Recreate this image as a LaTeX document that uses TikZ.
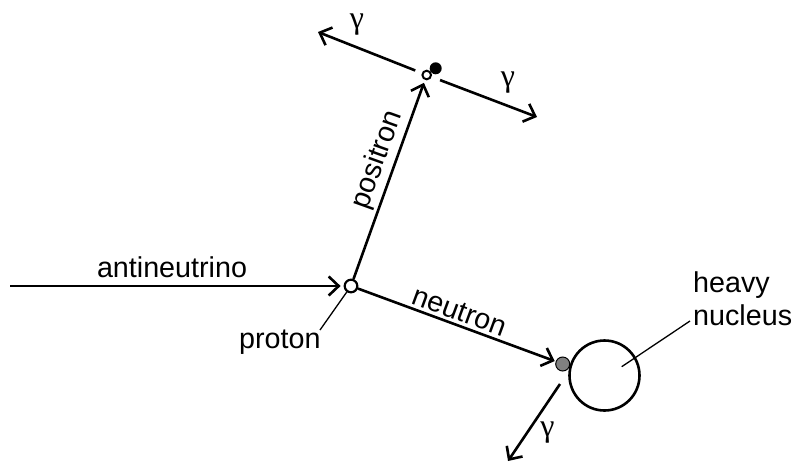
\documentclass[tikz,border=0pt]{standalone}
\usepackage{fontspec}
\setmainfont{Liberation Sans}
\newfontfamily\gfont{Liberation Serif}
\usetikzlibrary{arrows.meta}
\begin{document}
\begin{tikzpicture}[x=1pt,y=-1pt,
  main/.style={line width=2.6pt},
  arr/.style={main,-{Straight Barb[length=10pt,width=19pt,line width=2.6pt]}},
  lead/.style={line width=1.3pt},
  lbl/.style={font=\fontsize{28.7}{33}\selectfont, inner sep=0pt},
  gam/.style={font=\gfont\fontsize{32}{34}\selectfont, inner sep=0pt},
  opendot/.style={circle,draw,fill=white,inner sep=0pt},
]
\useasboundingbox (0,0) rectangle (795,464);

% particles
\node[opendot,line width=2.2pt,minimum size=12.6pt] (P) at (351,286) {};
\node[circle,fill=black,inner sep=0pt,minimum size=12pt] (F) at (435.7,68.3) {};
\node[opendot,line width=2pt,minimum size=8.6pt] (E) at (426.7,75) {};
\node[circle,draw,line width=1pt,fill=black!50,inner sep=0pt,minimum size=14pt] (G) at (562.7,364) {};
\node[circle,draw,line width=2.6pt,inner sep=0pt,minimum size=70pt] (N) at (604.5,375.5) {};

% antineutrino
\coordinate (A) at (10,286);
\draw[arr,shorten >=3pt] (A) -- (P);
\node[lbl,anchor=base] (antitxt) at (172,277) {antineutrino};

% positron and neutron
\draw[arr,shorten >=3pt] (P) -- (E)
  node[lbl,pos=0.57,sloped,above=3pt] (postxt) {positron};
\draw[arr,shorten >=1pt] (P) -- (G)
  node[lbl,pos=0.49,sloped,above=3pt] (neutxt) {neutron};

% annihilation gammas
\coordinate (GL) at (318,32);
\coordinate (GR) at (537,117);
\draw[arr,shorten <=7pt] (E) -- (GL);
\draw[arr,shorten <=9pt] (E) -- (GR);
\node[gam] (g1) at (357,25) {γ};
\node[gam] (g2) at (508,83) {γ};

% capture gamma
\coordinate (B0) at (560,384);
\coordinate (B1) at (508,461);
\draw[arr] (B0) -- (B1);
\node[gam] (g3) at (547.5,433) {γ};

% proton label
\coordinate (PL) at (320,330);
\draw[lead] (P) -- (PL);
\node[lbl,anchor=base west] (ptxt) at (239,348) {proton};

% heavy nucleus label
\coordinate (NL0) at (621.7,366.7);
\coordinate (NL1) at (690,321);
\draw[lead] (NL0) -- (NL1);
\node[lbl,anchor=base west] (h1) at (693,292) {heavy};
\node[lbl,anchor=base west] (h2) at (693,325) {nucleus};
\end{tikzpicture}
\end{document}
